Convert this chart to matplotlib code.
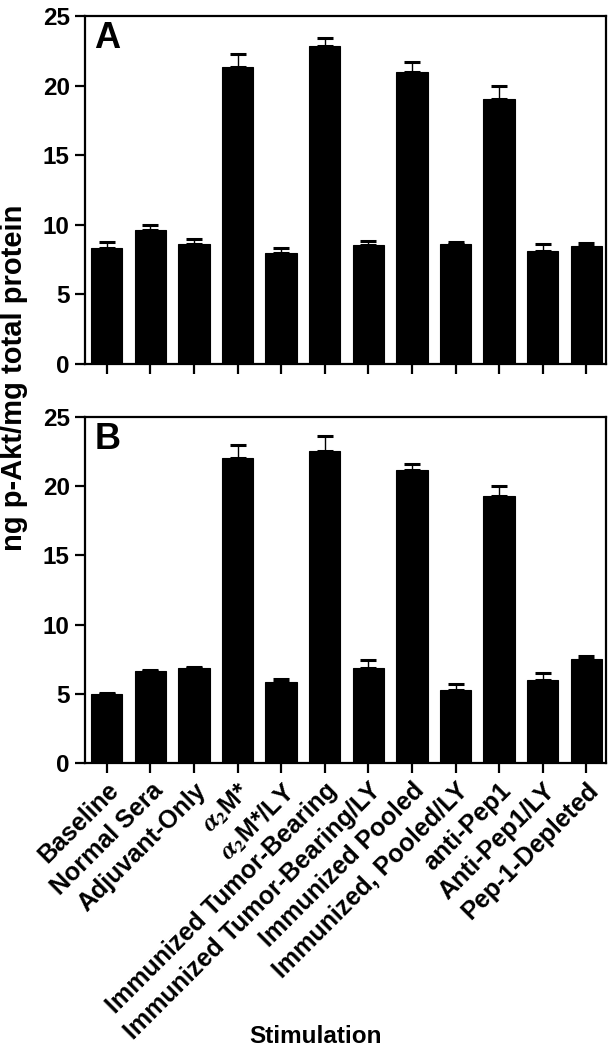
import matplotlib
matplotlib.use("Agg")
import matplotlib.pyplot as plt
import numpy as np

plt.rcParams['font.family'] = ['Liberation Sans', 'DejaVu Sans']
plt.rcParams['font.weight'] = 'bold'
plt.rcParams['mathtext.fontset'] = 'stix'

categories = ['Baseline', 'Normal Sera', 'Adjuvant-Only', r'$\alpha_2$M*', r'$\alpha_2$M*/LY',
              'Immunized Tumor-Bearing', 'Immunized Tumor-Bearing/LY', 'Immunized Pooled',
              'Immunized, Pooled/LY', 'anti-Pep1', 'Anti-Pep1/LY', 'Pep-1-Depleted']

vals_a = [8.35, 9.6, 8.6, 21.35, 7.95, 22.85, 8.55, 20.95, 8.6, 19.05, 8.15, 8.45]
err_a = [0.4, 0.4, 0.35, 0.95, 0.35, 0.6, 0.3, 0.75, 0.2, 0.95, 0.45, 0.27]

vals_b = [5.0, 6.65, 6.85, 22.05, 5.85, 22.55, 6.85, 21.15, 5.25, 19.3, 6.0, 7.55]
err_b = [0.05, 0.1, 0.12, 0.9, 0.22, 1.1, 0.57, 0.48, 0.48, 0.7, 0.5, 0.2]

fig = plt.figure(figsize=(6.11, 10.5), dpi=100)
ax_a = fig.add_axes([85/611, 1 - 364/1050, 521/611, 348/1050])
ax_b = fig.add_axes([85/611, 1 - 763/1050, 521/611, 346/1050])

x = np.arange(len(categories))

for ax, vals, errs, letter in [(ax_a, vals_a, err_a, 'A'), (ax_b, vals_b, err_b, 'B')]:
    ax.bar(x, vals, width=0.72, color='black', edgecolor='black', linewidth=0.8, zorder=2)
    ax.errorbar(x, vals, yerr=[np.zeros(len(errs)), errs], fmt='none', ecolor='black',
                elinewidth=1.0, capsize=6, capthick=2.2, zorder=1)
    ax.set_xlim(-0.5, 11.45)
    ax.set_ylim(0, 25)
    ax.set_yticks([0, 5, 10, 15, 20, 25])
    ax.set_xticks(x)
    for s in ax.spines.values():
        s.set_linewidth(1.6)
    ax.tick_params(axis='y', length=7.5, width=1.6, labelsize=17.5, pad=3.5)
    ax.tick_params(axis='x', length=7.5, width=1.6)
    ax.text(0.018, 0.985, letter, transform=ax.transAxes, fontsize=26, fontweight='bold',
            va='top', ha='left')

ax_a.set_xticklabels([])
ax_b.set_xticklabels(categories, rotation=45, ha='right', rotation_mode='anchor', fontsize=18)

fig.text(0.023, 0.64, 'ng p-Akt/mg total protein', rotation=90, ha='center', va='center',
         fontsize=21, fontweight='bold')
fig.text(0.517, 0.013, 'Stimulation', ha='center', va='center', fontsize=17.5, fontweight='bold')

fig.savefig('out.png', dpi=100)
